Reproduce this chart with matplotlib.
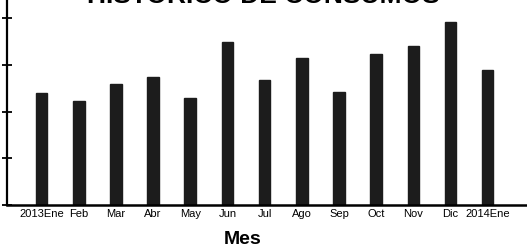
import numpy as np
import matplotlib
matplotlib.use("Agg")
import matplotlib.pyplot as plt

meses = ["2013Ene", "Feb", "Mar", "Abr", "May", "Jun", "Jul",
         "Ago", "Sep", "Oct", "Nov", "Dic", "2014Ene"]
consumo = [240, 223, 260, 273, 230, 349, 267, 314, 242, 324, 341, 392, 289]
yticks = [0, 100, 200, 300, 400]

plt.rcParams['font.family'] = ['Liberation Sans', 'DejaVu Sans']

fig = plt.figure(figsize=(5.27, 2.53), dpi=100)
ax = fig.add_axes([0.0133, 0.186, 0.9867, 0.814])

x = np.arange(len(meses))
ax.bar(x, consumo, width=0.31, color='#1c1c1c', edgecolor='#1c1c1c')

ax.set_xlim(-0.93, len(meses) - 1 + 1.06)
ax.set_ylim(0, 441)
ax.set_xticks(x)
ax.set_xticklabels(meses, fontsize=8)
# the value labels fall outside the scanned area, only the ticks remain
ax.set_yticks(yticks)
ax.set_yticklabels([''] * len(yticks))
ax.tick_params(axis='x', length=0, pad=2.5)
ax.tick_params(axis='y', direction='inout', length=7, width=1.3, pad=2)

for s in ['top', 'right']:
    ax.spines[s].set_visible(False)
ax.spines['left'].set_linewidth(1.6)
ax.spines['bottom'].set_linewidth(1.8)

ax.set_xlabel("Mes", fontsize=14, fontweight='bold')
ax.xaxis.set_label_coords(0.454, -0.12)

fig.text(0.5, 1 - 3 / 253, "HISTORICO DE CONSUMOS", ha='center', va='baseline',
         fontsize=19, fontweight='bold')

fig.savefig("out.png", dpi=100)
